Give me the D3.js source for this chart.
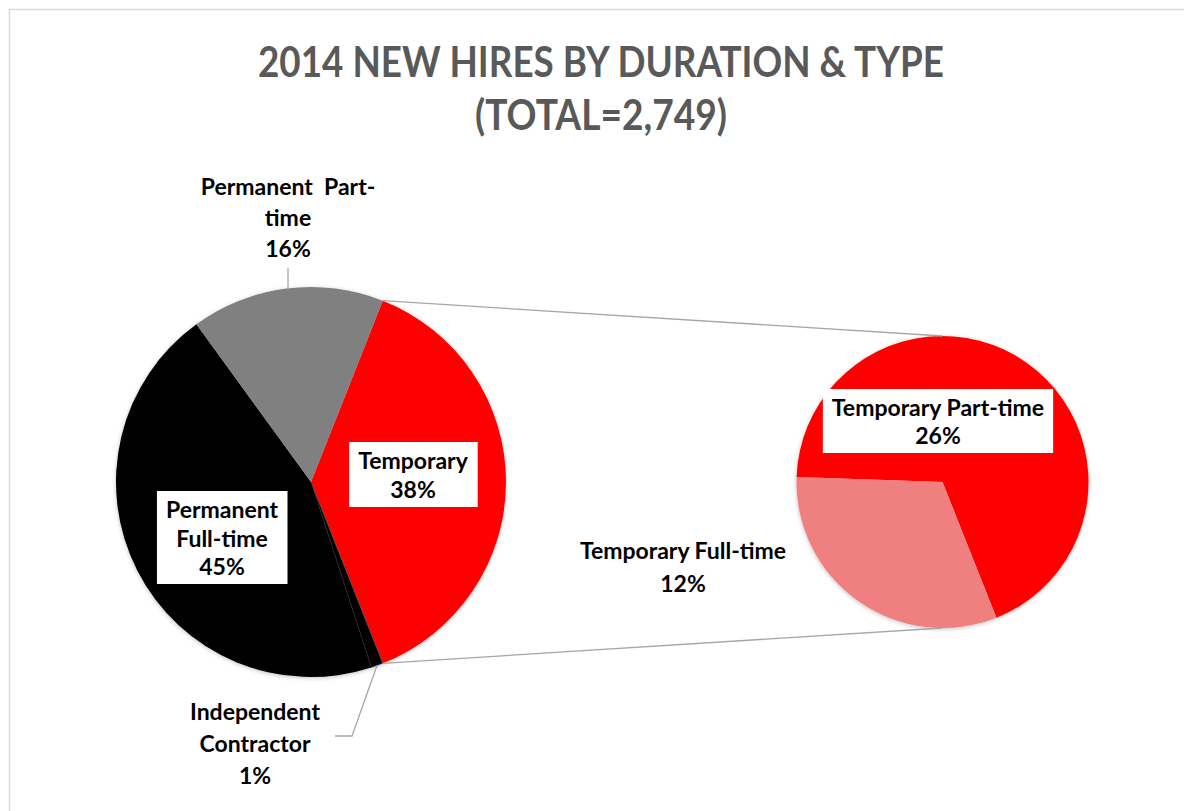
<!DOCTYPE html>
<html>
<head>
<meta charset="utf-8">
<title>2014 New Hires</title>
<style>
  body { margin: 0; background: #fff; }
  text { font-family: Lato, "Open Sans", sans-serif; font-weight: bold; }
</style>
</head>
<body>
<svg width="1184" height="811"></svg>
<script src="https://cdn.jsdelivr.net/npm/d3@7"></script>
<script>
// data
var mainCats = ["Temporary", "Independent Contractor", "Permanent Full-time", "Permanent Part-time"];
var mainVals = [38, 1, 45, 16];
var mainColors = ["#ff0000", "#000000", "#000000", "#808080"];
var mainLines = [["Temporary"], ["Independent", "Contractor"], ["Permanent", "Full-time"], ["Permanent  Part-", "time"]];

var subCats = ["Temporary Part-time", "Temporary Full-time"];
var subVals = [26, 12];
var subColors = ["#ff0000", "#f08080"];
var subLines = [["Temporary Part-time"], ["Temporary Full-time"]];

var titleLines = ["2014 NEW HIRES BY DURATION & TYPE", "(TOTAL=2,749)"];

var svg = d3.select("svg");

// chart border (cropped on right/bottom)
svg.append("rect")
  .attr("x", 9.5).attr("y", 9.5)
  .attr("width", 1300).attr("height", 1000)
  .attr("fill", "none")
  .attr("stroke", "#d9d9d9")
  .attr("stroke-width", 1.5);

// soft shadow like excel
var filt = svg.append("defs").append("filter").attr("id", "shadow")
  .attr("x", "-10%").attr("y", "-10%").attr("width", "120%").attr("height", "120%");
filt.append("feDropShadow")
  .attr("dx", 0).attr("dy", 1).attr("stdDeviation", 2)
  .attr("flood-color", "#000").attr("flood-opacity", 0.25);

// title
var title = svg.append("g");
var titleWidths = [686, 252];
title.selectAll("text")
  .data(titleLines)
  .enter().append("text")
  .attr("x", 601)
  .attr("y", function(d, i) { return 77 + i * 53; })
  .attr("text-anchor", "middle")
  .attr("fill", "#595959")
  .style("font-size", "42px")
  .text(function(d) { return d; })
  .each(function(d, i) {
    var w = this.getComputedTextLength();
    if (w > titleWidths[i]) {
      d3.select(this).attr("textLength", titleWidths[i]).attr("lengthAdjust", "spacingAndGlyphs");
    }
  });

// main pie
var c1 = { x: 311, y: 482, r: 195 };
var tempShare = mainVals[0] / d3.sum(mainVals);
var pie1 = d3.pie().sort(null)
  .startAngle(Math.PI / 2 - tempShare * Math.PI)
  .endAngle(Math.PI / 2 - tempShare * Math.PI + 2 * Math.PI);
var arc1 = d3.arc().innerRadius(0).outerRadius(c1.r);
var arcs1 = pie1(mainVals);

var g1 = svg.append("g")
  .attr("transform", "translate(" + c1.x + "," + c1.y + ")")
  .attr("filter", "url(#shadow)");
g1.selectAll("path")
  .data(arcs1)
  .enter().append("path")
  .attr("d", arc1)
  .attr("fill", function(d, i) { return mainColors[i]; })
  .attr("stroke", function(d, i) { return i == 1 ? "#555" : "none"; })
  .attr("stroke-width", 0.6);

// secondary pie
var c2 = { x: 942.5, y: 482, r: 146 };
var subStart = -88 * Math.PI / 180;
var pie2 = d3.pie().sort(null)
  .startAngle(subStart)
  .endAngle(subStart + 2 * Math.PI);
var arc2 = d3.arc().innerRadius(0).outerRadius(c2.r);
var arcs2 = pie2(subVals);

var g2 = svg.append("g")
  .attr("transform", "translate(" + c2.x + "," + c2.y + ")")
  .attr("filter", "url(#shadow)");
g2.selectAll("path")
  .data(arcs2)
  .enter().append("path")
  .attr("d", arc2)
  .attr("fill", function(d, i) { return subColors[i]; });

// connector lines from the split slice to the secondary pie
var tArc = arcs1[0];
function edgePt(c, a, r) {
  return [c.x + r * Math.sin(a), c.y - r * Math.cos(a)];
}
var p1 = edgePt(c1, tArc.startAngle, c1.r);
var p2 = edgePt(c1, tArc.endAngle, c1.r);
svg.append("g").selectAll("line")
  .data([[p1, [c2.x, c2.y - c2.r]], [p2, [c2.x, c2.y + c2.r]]])
  .enter().append("line")
  .attr("x1", function(d) { return d[0][0]; })
  .attr("y1", function(d) { return d[0][1]; })
  .attr("x2", function(d) { return d[1][0]; })
  .attr("y2", function(d) { return d[1][1]; })
  .attr("stroke", "#a6a6a6")
  .attr("stroke-width", 1.3);

// leader lines (permanent part-time, independent contractor)
var icMid = (arcs1[1].startAngle + arcs1[1].endAngle) / 2;
var ppEdge = edgePt(c1, Math.PI * 2 - 0.13, c1.r);
var icEdge = edgePt(c1, icMid, c1.r);
var leaders = [
  [[288, 268], [288, ppEdge[1]]],
  [icEdge, [352, 736], [335, 736]]
];
svg.append("g").selectAll("path")
  .data(leaders)
  .enter().append("path")
  .attr("d", d3.line())
  .attr("fill", "none")
  .attr("stroke", "#a6a6a6")
  .attr("stroke-width", 1.3);

// labels : layout positions (centre x, first baseline, line gap, boxed)
var mainLabelPos = [
  { x: 413, y: 469, gap: 29, box: true },
  { x: 255, y: 720, gap: 32, box: false },
  { x: 222, y: 518, gap: 28.5, box: true },
  { x: 288, y: 195, gap: 31, box: false }
];
var subLabelPos = [
  { x: 938, y: 416, gap: 28, box: true },
  { x: 683, y: 559, gap: 33, box: false }
];

function drawLabel(lines, value, pos) {
  var g = svg.append("g");
  var all = lines.concat([value + "%"]);
  var t = g.append("text")
    .attr("text-anchor", "middle")
    .attr("fill", "#000")
    .style("font-size", "23px");
  t.selectAll("tspan")
    .data(all)
    .enter().append("tspan")
    .attr("x", pos.x)
    .attr("y", function(d, i) { return pos.y + i * pos.gap; })
    .style("white-space", "pre")
    .text(function(d) { return d; });
  if (pos.box) {
    var bb = t.node().getBBox();
    g.insert("rect", "text")
      .attr("x", bb.x - 9)
      .attr("y", bb.y - 4)
      .attr("width", bb.width + 18)
      .attr("height", bb.height + 8)
      .attr("fill", "#fff");
  }
}

mainLines.forEach(function(l, i) { drawLabel(l, mainVals[i], mainLabelPos[i]); });
subLines.forEach(function(l, i) { drawLabel(l, subVals[i], subLabelPos[i]); });
</script>
</body>
</html>
